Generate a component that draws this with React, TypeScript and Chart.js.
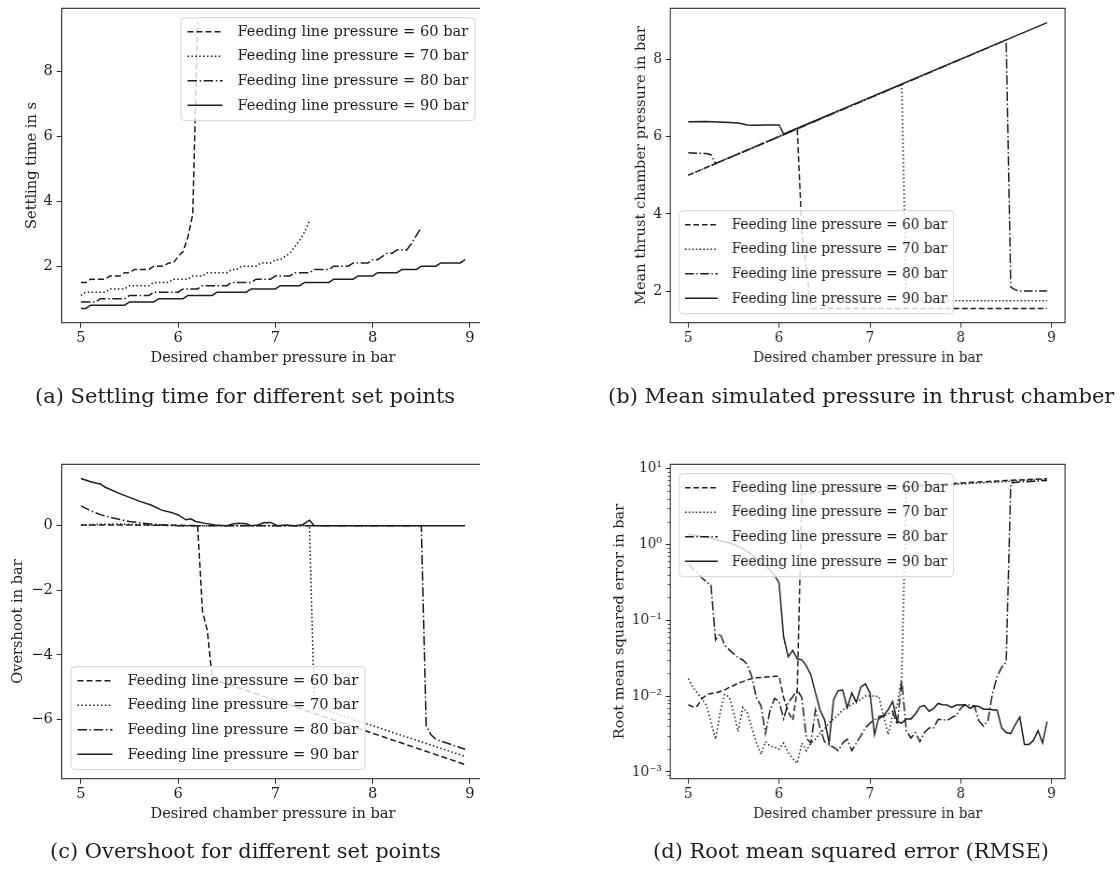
import React, { useEffect, useRef } from 'react';
import { Chart, registerables } from 'chart.js';

Chart.register(...registerables);

const FONT = '"DejaVu Serif", serif';
const INK = '#1e1e1e';
const FRAME = '#2a2a2a';
const FS = 14.6;

const SERIES_LABELS = [
  'Feeding line pressure = 60 bar',
  'Feeding line pressure = 70 bar',
  'Feeding line pressure = 80 bar',
  'Feeding line pressure = 90 bar',
];
const DASHES = [[6, 3], [1.5, 2.4], [9.5, 2.6, 1.5, 2.6], []];

const X_LABEL = 'Desired chamber pressure in bar';
const X_TICKS = [5, 6, 7, 8, 9];
const X_TICK_LABELS = ['5', '6', '7', '8', '9'];
const X_MIN = 4.8025;
const X_MAX = 9.1475;

const GRID_X = [
  5.0, 5.05, 5.1, 5.15, 5.2, 5.25, 5.3, 5.35, 5.4, 5.45, 5.5, 5.55, 5.6, 5.65, 5.7, 5.75, 5.8, 5.85, 5.9, 5.95,
  6.0, 6.05, 6.1, 6.15, 6.2, 6.25, 6.3, 6.35, 6.4, 6.45, 6.5, 6.55, 6.6, 6.65, 6.7, 6.75, 6.8, 6.85, 6.9, 6.95,
  7.0, 7.05, 7.1, 7.15, 7.2, 7.25, 7.3, 7.35, 7.4, 7.45, 7.5, 7.55, 7.6, 7.65, 7.7, 7.75, 7.8, 7.85, 7.9, 7.95,
  8.0, 8.05, 8.1, 8.15, 8.2, 8.25, 8.3, 8.35, 8.4, 8.45, 8.5, 8.55, 8.6, 8.65, 8.7, 8.75, 8.8, 8.85, 8.9, 8.95,
];

// (a) Settling time in s
const A_Y_TITLE = 'Settling time in s';
const A_Y_TICKS = [2, 4, 6, 8];
const A_Y_TICK_LABELS = ['2', '4', '6', '8'];
const A60_Y = [1.5, 1.5, 1.6, 1.6, 1.6, 1.6, 1.7, 1.7, 1.7, 1.8, 1.8, 1.9, 1.9, 1.9, 1.9, 2.0, 2.0, 2.0, 2.1, 2.1, 2.3, 2.45, 2.9, 3.6, 9.5];
const A70_Y = [1.1, 1.2, 1.2, 1.2, 1.2, 1.2, 1.3, 1.3, 1.3, 1.3, 1.4, 1.4, 1.4, 1.4, 1.4, 1.5, 1.5, 1.5, 1.5, 1.6, 1.6, 1.6, 1.6, 1.7, 1.7, 1.7, 1.8, 1.8, 1.8, 1.8, 1.8, 1.9, 1.9, 2.0, 2.0, 2.0, 2.0, 2.1, 2.1, 2.1, 2.2, 2.2, 2.3, 2.4, 2.6, 2.8, 3.05, 3.4];
const A80_Y = [0.9, 0.9, 0.9, 0.9, 1.0, 1.0, 1.0, 1.0, 1.0, 1.0, 1.1, 1.1, 1.1, 1.1, 1.1, 1.2, 1.2, 1.2, 1.2, 1.2, 1.2, 1.3, 1.3, 1.3, 1.3, 1.4, 1.4, 1.4, 1.4, 1.4, 1.4, 1.5, 1.5, 1.5, 1.5, 1.5, 1.6, 1.6, 1.6, 1.6, 1.7, 1.7, 1.7, 1.7, 1.8, 1.8, 1.8, 1.8, 1.9, 1.9, 1.9, 1.9, 2.0, 2.0, 2.0, 2.0, 2.1, 2.1, 2.1, 2.1, 2.2, 2.2, 2.3, 2.4, 2.4, 2.5, 2.5, 2.5, 2.7, 2.95, 3.2];
const A90_Y = [0.7, 0.7, 0.8, 0.8, 0.8, 0.8, 0.8, 0.8, 0.8, 0.8, 0.9, 0.9, 0.9, 0.9, 0.9, 0.9, 1.0, 1.0, 1.0, 1.0, 1.0, 1.0, 1.1, 1.1, 1.1, 1.1, 1.1, 1.1, 1.2, 1.2, 1.2, 1.2, 1.2, 1.2, 1.2, 1.3, 1.3, 1.3, 1.3, 1.3, 1.3, 1.4, 1.4, 1.4, 1.4, 1.4, 1.5, 1.5, 1.5, 1.5, 1.5, 1.5, 1.6, 1.6, 1.6, 1.6, 1.6, 1.7, 1.7, 1.7, 1.7, 1.8, 1.8, 1.8, 1.8, 1.8, 1.9, 1.9, 1.9, 1.9, 2.0, 2.0, 2.0, 2.0, 2.1, 2.1, 2.1, 2.1, 2.1, 2.2];

// (b) Mean thrust chamber pressure in bar
const B_Y_TITLE = 'Mean thrust chamber pressure in bar';
const B_Y_TICKS = [2, 4, 6, 8];
const B_Y_TICK_LABELS = ['2', '4', '6', '8'];
const B60_X = [5.0, 6.2, 6.25, 6.3, 6.35, 8.95];
const B60_Y = [5.0, 6.2, 3.55, 2.6, 1.55, 1.55];
const B70_X = [5.0, 7.35, 7.4, 8.95];
const B70_Y = [5.0, 7.35, 1.75, 1.75];
const B80_X = [5.0, 5.1, 5.2, 5.25, 5.3, 8.5, 8.55, 8.6, 8.65, 8.95];
const B80_Y = [5.58, 5.57, 5.56, 5.53, 5.3, 8.5, 2.1, 2.03, 2.0, 2.0];
const B90_X = [5.0, 5.2, 5.4, 5.55, 5.65, 5.75, 5.85, 6.0, 6.05, 8.95];
const B90_Y = [6.38, 6.39, 6.37, 6.35, 6.3, 6.29, 6.3, 6.3, 6.07, 8.95];

// (c) Overshoot in bar
const C_Y_TITLE = 'Overshoot in bar';
const C_Y_TICKS = [-6, -4, -2, 0];
const C_Y_TICK_LABELS = ['\u22126', '\u22124', '\u22122', '0'];
const C60_X = [5.0, 5.5, 6.0, 6.2, 6.25, 6.3, 6.35, 8.95];
const C60_Y = [0.02, 0.02, 0.01, 0.0, -2.65, -3.25, -4.75, -7.4];
const C70_X = [5.0, 5.2, 5.4, 5.6, 5.8, 6.0, 7.3, 7.35, 7.4, 8.95];
const C70_Y = [0.02, 0.04, 0.05, 0.03, 0.01, 0.0, 0.0, 0.0, -5.6, -7.15];
const C80_X = [5.0, 5.1, 5.2, 5.3, 5.4, 5.5, 5.6, 5.7, 5.8, 5.9, 6.0, 8.5, 8.55, 8.6, 8.65, 8.95];
const C80_Y = [0.61, 0.46, 0.34, 0.26, 0.19, 0.13, 0.09, 0.055, 0.03, 0.015, 0.0, 0.0, -6.2, -6.48, -6.62, -6.93];
const C90_X = [5.0, 5.1, 5.15, 5.2, 5.25, 5.4, 5.6, 5.72, 5.83, 5.93, 6.0, 6.08, 6.13, 6.18, 6.28, 6.38, 6.5, 6.56, 6.62, 6.7, 6.75, 6.82, 6.88, 6.95, 7.02, 7.1, 7.2, 7.28, 7.35, 7.4, 8.95];
const C90_Y = [1.46, 1.36, 1.32, 1.29, 1.19, 0.99, 0.76, 0.64, 0.48, 0.41, 0.33, 0.18, 0.21, 0.13, 0.07, 0.02, 0.0, 0.05, 0.07, 0.06, 0.0, 0.02, 0.09, 0.1, 0.0, 0.02, 0.0, 0.03, 0.17, 0.0, 0.0];

// (d) Root mean squared error in bar (log)
const D_Y_TITLE = 'Root mean squared error in bar';
const D_Y_TICKS = [0.001, 0.01, 0.1, 1, 10];
const D_Y_TICK_LABELS = ['10\u207B\u00B3', '10\u207B\u00B2', '10\u207B\u00B9', '10\u2070', '10\u00B9'];
const D_MINOR_MULT = [2, 3, 4, 5, 6, 7, 8, 9];
const D_DECADES = [-4, -3, -2, -1, 0, 1];
const D60_X = [5.0, 5.05, 5.1, 5.15, 5.2, 5.25, 5.3, 5.35, 5.4, 5.45, 5.5, 5.55, 5.6, 5.65, 5.7, 5.75, 5.8, 5.85, 5.9, 5.95, 6.0, 6.05, 6.1, 6.15, 6.2, 6.25, 6.35, 6.6, 7.0, 7.5, 8.0, 8.5, 8.95];
const D60_Y = [0.0077, 0.0072, 0.0074, 0.0092, 0.0104, 0.0108, 0.011, 0.0115, 0.012, 0.013, 0.0138, 0.0148, 0.0155, 0.0163, 0.017, 0.0174, 0.0175, 0.0178, 0.018, 0.0183, 0.0183, 0.0095, 0.0062, 0.0048, 0.012, 4.5, 4.8, 5.05, 5.45, 5.95, 6.45, 6.95, 7.35];
const D70_X = [...GRID_X.slice(0, 48), 7.4, 8.0, 8.5, 8.95];
const D70_Y = [0.017, 0.013, 0.011, 0.0092, 0.0075, 0.0045, 0.0027, 0.006, 0.0105, 0.0098, 0.006, 0.0034, 0.0071, 0.006, 0.0038, 0.0024, 0.0017, 0.0025, 0.0022, 0.0021, 0.002, 0.0024, 0.0018, 0.0015, 0.0013, 0.0024, 0.0019, 0.0024, 0.0027, 0.0032, 0.0037, 0.0044, 0.005, 0.0056, 0.0066, 0.0072, 0.0077, 0.0085, 0.009, 0.01, 0.01, 0.01, 0.0098, 0.0054, 0.0031, 0.0056, 0.0075, 0.018, 5.65, 6.25, 6.75, 7.2];
const D80_X = [...GRID_X.slice(0, 71), 8.55, 8.65, 8.8, 8.95];
const D80_Y = [0.56, 0.48, 0.42, 0.36, 0.32, 0.29, 0.055, 0.067, 0.047, 0.041, 0.036, 0.032, 0.03, 0.026, 0.018, 0.0095, 0.0075, 0.0032, 0.0065, 0.0093, 0.0085, 0.005, 0.0082, 0.0098, 0.012, 0.0095, 0.0028, 0.0024, 0.0066, 0.0038, 0.0025, 0.0023, 0.0021, 0.0019, 0.0024, 0.0027, 0.0019, 0.0024, 0.003, 0.0038, 0.0044, 0.0049, 0.005, 0.0055, 0.0058, 0.0063, 0.0042, 0.016, 0.0035, 0.0028, 0.0033, 0.0025, 0.0033, 0.0038, 0.0038, 0.0049, 0.0049, 0.0048, 0.0052, 0.0056, 0.0069, 0.0077, 0.0076, 0.0074, 0.0047, 0.004, 0.0048, 0.011, 0.018, 0.024, 0.028, 6.5, 6.65, 6.8, 6.95];
const D90_Y = [1.35, 1.33, 1.3, 1.27, 1.24, 1.2, 1.16, 1.12, 1.08, 1.04, 1.0, 0.94, 0.88, 0.8, 0.73, 0.65, 0.58, 0.52, 0.46, 0.39, 0.31, 0.06, 0.033, 0.04, 0.031, 0.03, 0.025, 0.019, 0.011, 0.0066, 0.0049, 0.0024, 0.009, 0.0118, 0.012, 0.007, 0.011, 0.0083, 0.0132, 0.0145, 0.011, 0.0031, 0.0054, 0.0055, 0.0066, 0.0085, 0.0046, 0.0044, 0.005, 0.005, 0.0058, 0.0072, 0.0075, 0.0063, 0.0068, 0.008, 0.0077, 0.0076, 0.0071, 0.0076, 0.0076, 0.0077, 0.0069, 0.0074, 0.0073, 0.0067, 0.0067, 0.0066, 0.0065, 0.0038, 0.0033, 0.0032, 0.0042, 0.0053, 0.0023, 0.0023, 0.0026, 0.0035, 0.0024, 0.0046];

// layout (in unsqueezed canvas pixels)
const CANVAS_H = 400;
const PAD_TOP = 8.3;
const X_AXIS_H = 77.3;
const TICK_LEN = 5;
const X_TITLE_PAD = 33.2;
const LEGEND_W = 294;
const LEGEND_H = 103;
const LEGEND_ROWS = [14, 38.5, 63, 87.6];

type Series = { x: number[]; y: number[] };
type Sub = {
  series: Series[];
  yType: 'linear' | 'logarithmic';
  yMin: number;
  yMax: number;
  yTicks: number[];
  yTickLabels: string[];
  yTitle: string;
  yTitleCenter: number;
  canvasW: number;
  yAxisW: number;
  padRight: number;
  legend: 'tr' | 'bl' | 'tl';
};

function roundRect(ctx: CanvasRenderingContext2D, x: number, y: number, w: number, h: number, r: number) {
  ctx.beginPath();
  ctx.moveTo(x + r, y);
  ctx.lineTo(x + w - r, y);
  ctx.arcTo(x + w, y, x + w, y + r, r);
  ctx.lineTo(x + w, y + h - r);
  ctx.arcTo(x + w, y + h, x + w - r, y + h, r);
  ctx.lineTo(x + r, y + h);
  ctx.arcTo(x, y + h, x, y + h - r, r);
  ctx.lineTo(x, y + r);
  ctx.arcTo(x, y, x + r, y, r);
  ctx.closePath();
}

function makeChart(canvas: HTMLCanvasElement, sub: Sub) {
  const datasets = sub.series.map((s, i) => ({
    label: SERIES_LABELS[i],
    data: s.x.map((xv, k) => ({ x: xv, y: s.y[k] })),
    borderColor: INK,
    borderWidth: 1.5,
    borderDash: DASHES[i],
    pointRadius: 0,
    fill: false,
    tension: 0,
    order: 3 - i,
  }));

  const decor = {
    id: 'mplDecor',
    afterDatasetsDraw(chart: any) {
      const ctx: CanvasRenderingContext2D = chart.ctx;
      const { left, top, right, bottom } = chart.chartArea;
      ctx.save();
      if (sub.yType === 'logarithmic') {
        const ys = chart.scales.y;
        ctx.strokeStyle = FRAME;
        ctx.lineWidth = 0.8;
        ctx.beginPath();
        for (const d of D_DECADES) {
          for (const m of D_MINOR_MULT) {
            const v = m * Math.pow(10, d);
            if (v < ys.min || v > ys.max) continue;
            const py = Math.round(ys.getPixelForValue(v)) + 0.5;
            ctx.moveTo(left - 2.8, py);
            ctx.lineTo(left, py);
          }
        }
        ctx.stroke();
      }
      ctx.setLineDash([]);
      ctx.strokeStyle = FRAME;
      ctx.lineWidth = 1.1;
      ctx.strokeRect(left, top, right - left, bottom - top);

      let bx = left + 9.3;
      let by = top + 9.4;
      if (sub.legend === 'tr') bx = right - 9.3 - LEGEND_W;
      if (sub.legend === 'bl') by = bottom - 9 - LEGEND_H;
      roundRect(ctx, bx, by, LEGEND_W, LEGEND_H, 4);
      ctx.fillStyle = 'rgba(255,255,255,0.8)';
      ctx.fill();
      ctx.strokeStyle = '#d4d4d4';
      ctx.lineWidth = 1;
      ctx.stroke();
      ctx.font = `${FS}px ${FONT}`;
      ctx.textBaseline = 'middle';
      ctx.textAlign = 'left';
      SERIES_LABELS.forEach((lab, i) => {
        const yy = by + LEGEND_ROWS[i];
        ctx.beginPath();
        ctx.setLineDash(DASHES[i]);
        ctx.lineDashOffset = 0;
        ctx.strokeStyle = INK;
        ctx.lineWidth = 1.5;
        ctx.moveTo(bx + 6.5, yy);
        ctx.lineTo(bx + 41.5, yy);
        ctx.stroke();
        ctx.setLineDash([]);
        ctx.fillStyle = INK;
        ctx.fillText(lab, bx + 56.5, yy + 0.5);
      });
      ctx.restore();
    },
  };

  const tickFont = { family: FONT, size: FS };

  return new Chart(canvas, {
    type: 'line',
    data: { datasets } as any,
    options: {
      animation: false,
      responsive: false,
      events: [],
      layout: { padding: { left: 0, top: PAD_TOP, right: sub.padRight, bottom: 0 } },
      plugins: { legend: { display: false }, tooltip: { enabled: false } },
      scales: {
        x: {
          type: 'linear',
          min: X_MIN,
          max: X_MAX,
          afterBuildTicks: (s: any) => {
            s.ticks = X_TICKS.map((v) => ({ value: v }));
          },
          afterFit: (s: any) => {
            s.height = X_AXIS_H;
            s.paddingLeft = 0;
            s.paddingRight = 0;
          },
          ticks: {
            autoSkip: false,
            maxRotation: 0,
            padding: 2,
            color: INK,
            font: tickFont,
            callback: (_v: any, i: number) => X_TICK_LABELS[i],
          },
          grid: { display: true, drawOnChartArea: false, drawTicks: true, tickLength: TICK_LEN, color: FRAME },
          border: { display: false },
          title: {
            display: true,
            text: X_LABEL,
            color: INK,
            font: tickFont,
            padding: { top: 0, bottom: X_TITLE_PAD },
          },
        },
        y: {
          type: sub.yType,
          min: sub.yMin,
          max: sub.yMax,
          afterBuildTicks: (s: any) => {
            s.ticks = sub.yTicks.map((v) => ({ value: v }));
          },
          afterFit: (s: any) => {
            s.width = sub.yAxisW;
            s.paddingTop = 0;
            s.paddingBottom = 0;
          },
          ticks: {
            autoSkip: false,
            padding: 4,
            color: INK,
            font: tickFont,
            callback: (_v: any, i: number) => sub.yTickLabels[i],
          },
          grid: { display: true, drawOnChartArea: false, drawTicks: true, tickLength: TICK_LEN, color: FRAME },
          border: { display: false },
          title: {
            display: true,
            text: sub.yTitle,
            color: INK,
            font: tickFont,
            padding: { top: sub.yTitleCenter - FS * 0.6, bottom: 0 },
          },
        },
      },
    } as any,
    plugins: [decor],
  });
}

const SQ = 0.93333;

const SUB_A: Sub = {
  series: [
    { x: GRID_X.slice(0, A60_Y.length), y: A60_Y },
    { x: GRID_X.slice(0, A70_Y.length), y: A70_Y },
    { x: GRID_X.slice(0, A80_Y.length), y: A80_Y },
    { x: GRID_X.slice(0, A90_Y.length), y: A90_Y },
  ],
  yType: 'linear', yMin: 0.26, yMax: 9.94, yTicks: A_Y_TICKS, yTickLabels: A_Y_TICK_LABELS,
  yTitle: A_Y_TITLE, yTitleCenter: 32, canvasW: 560, yAxisW: 61.7, padRight: 75.7, legend: 'tr',
};
const SUB_B: Sub = {
  series: [
    { x: B60_X, y: B60_Y },
    { x: B70_X, y: B70_Y },
    { x: B80_X, y: B80_Y },
    { x: B90_X, y: B90_Y },
  ],
  yType: 'linear', yMin: 1.18, yMax: 9.32, yTicks: B_Y_TICKS, yTickLabels: B_Y_TICK_LABELS,
  yTitle: B_Y_TITLE, yTitleCenter: 87.5, canvasW: 600, yAxisW: 118.2, padRight: 58.9, legend: 'bl',
};
const SUB_C: Sub = {
  series: [
    { x: C60_X, y: C60_Y },
    { x: C70_X, y: C70_Y },
    { x: C80_X, y: C80_Y },
    { x: C90_X, y: C90_Y },
  ],
  yType: 'linear', yMin: -7.84, yMax: 1.9, yTicks: C_Y_TICKS, yTickLabels: C_Y_TICK_LABELS,
  yTitle: C_Y_TITLE, yTitleCenter: 18.3, canvasW: 560, yAxisW: 61.7, padRight: 75.7, legend: 'bl',
};
const SUB_D: Sub = {
  series: [
    { x: D60_X, y: D60_Y },
    { x: D70_X, y: D70_Y },
    { x: D80_X, y: D80_Y },
    { x: GRID_X, y: D90_Y },
  ],
  yType: 'logarithmic', yMin: 0.000813, yMax: 11.38, yTicks: D_Y_TICKS, yTickLabels: D_Y_TICK_LABELS,
  yTitle: D_Y_TITLE, yTitleCenter: 64.3, canvasW: 600, yAxisW: 118.2, padRight: 58.9, legend: 'tl',
};

const captionStyle = (left: number, top: number): React.CSSProperties => ({
  position: 'absolute',
  left,
  top,
  whiteSpace: 'nowrap',
  fontFamily: FONT,
  fontSize: 21,
  lineHeight: '24px',
  color: INK,
});

export default function App() {
  const aRef = useRef<HTMLCanvasElement>(null);
  const bRef = useRef<HTMLCanvasElement>(null);
  const cRef = useRef<HTMLCanvasElement>(null);
  const dRef = useRef<HTMLCanvasElement>(null);

  useEffect(() => {
    Chart.defaults.font.family = FONT;
    const charts = [
      makeChart(aRef.current!, SUB_A),
      makeChart(bRef.current!, SUB_B),
      makeChart(cRef.current!, SUB_C),
      makeChart(dRef.current!, SUB_D),
    ];
    return () => charts.forEach((c) => c.destroy());
  }, []);

  const leftBox = (top: number): React.CSSProperties => ({
    position: 'absolute', left: 0, top, width: 480, height: CANVAS_H, overflow: 'hidden',
  });
  const rightBox = (top: number): React.CSSProperties => ({
    position: 'absolute', left: 560, top, width: 560, height: CANVAS_H, overflow: 'hidden',
  });
  const sqStyle: React.CSSProperties = { display: 'block', transform: `scaleX(${SQ})`, transformOrigin: '0 0' };

  return (
    <div style={{ position: 'absolute', left: 0, top: 0, width: 1120, height: 869, background: '#fff', overflow: 'hidden' }}>
      <div style={leftBox(0)}>
        <canvas ref={aRef} width={560} height={CANVAS_H} style={{ display: 'block' }} />
      </div>
      <div style={rightBox(0)}>
        <canvas ref={bRef} width={600} height={CANVAS_H} style={sqStyle} />
      </div>
      <div style={leftBox(456)}>
        <canvas ref={cRef} width={560} height={CANVAS_H} style={{ display: 'block' }} />
      </div>
      <div style={rightBox(456)}>
        <canvas ref={dRef} width={600} height={CANVAS_H} style={sqStyle} />
      </div>
      <div style={captionStyle(35, 384)}>(a) Settling time for different set points</div>
      <div style={captionStyle(608, 384)}>(b) Mean simulated pressure in thrust chamber</div>
      <div style={captionStyle(50, 839)}>(c) Overshoot for different set points</div>
      <div style={captionStyle(653, 839)}>(d) Root mean squared error (RMSE)</div>
    </div>
  );
}
